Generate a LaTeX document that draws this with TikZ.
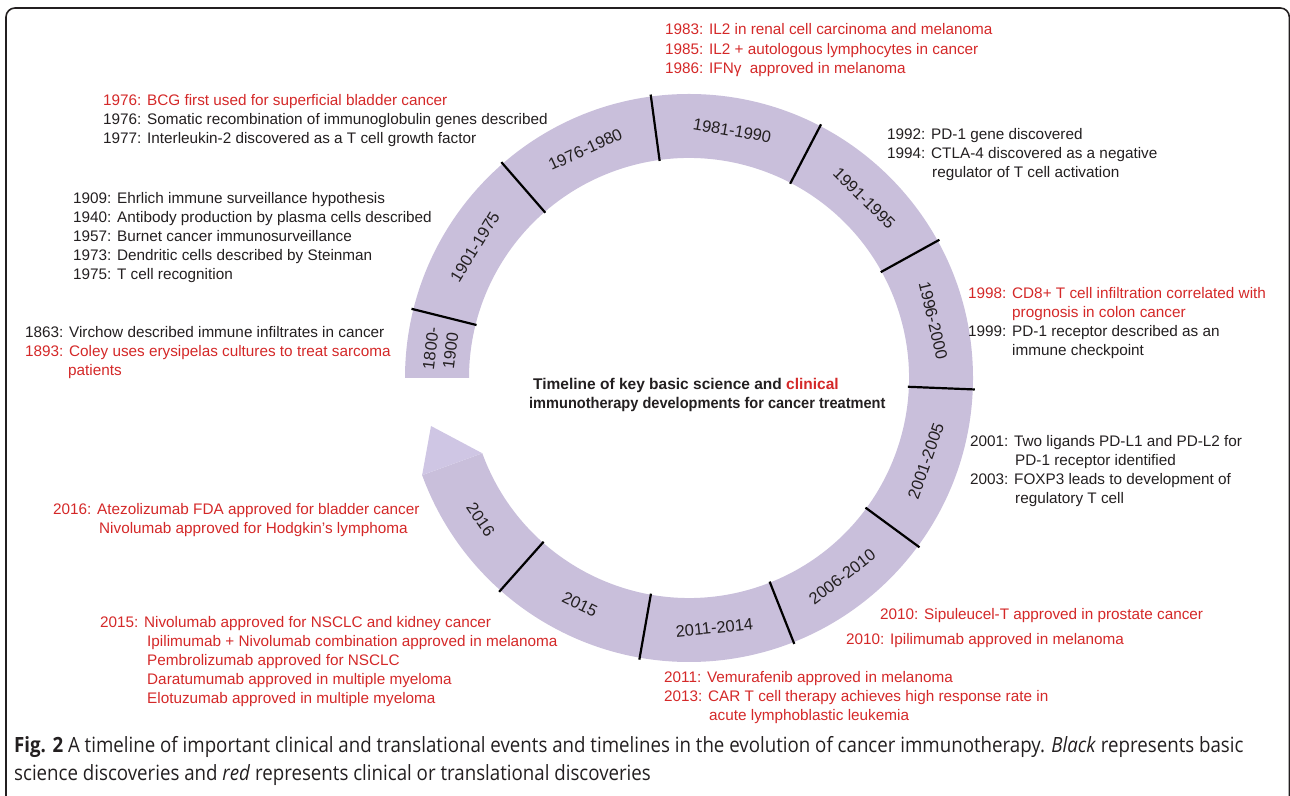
\documentclass[tikz,border=0pt]{standalone}
\usepackage{fontspec}
\setmainfont{Liberation Sans}
\newfontfamily\capfont[FakeStretch=0.89]{Open Sans}
\definecolor{ringc}{RGB}{201,191,219}
\definecolor{tipc}{RGB}{207,198,228}
\definecolor{redt}{RGB}{212,40,40}
\definecolor{blkt}{RGB}{35,31,32}
\tikzset{
  txt/.style={font=\fontsize{15.3}{19}\selectfont, inner sep=0pt, anchor=base west},
  ylab/.style={font=\fontsize{16.5}{20}\selectfont, text=blkt, inner sep=0pt, align=center},
  sep/.style={line width=2.2pt, black},
  ttl/.style={font=\fontsize{15.5}{19}\selectfont\bfseries, inner sep=0pt, anchor=base west, text=blkt},
  capt/.style={font=\capfont\fontsize{21}{27}\selectfont, inner sep=0pt, anchor=base west, text=blkt}
}
\newcommand\tl[5]{\node[txt,text=#1] (#2) at (#3,{795-#4}) {#5};}
\begin{document}
\begin{tikzpicture}[x=1pt,y=1pt]
\useasboundingbox (0,0) rectangle (1290,795);
\draw[line width=1.6pt, rounded corners=9pt, blkt] (6,-12) rectangle (1289.3,787);
\begin{scope}[shift={(689,417)}]
  \fill[ringc] (180:284) arc[start angle=180,end angle=-160,radius=284] -- (-160:220) arc[start angle=-160,end angle=180,radius=220] -- cycle;
  \coordinate (ao) at (-160:284);
  \coordinate (ai) at (-160:220);
  \coordinate (at) at (-258,-48);
  \fill[tipc] (ao) -- (ai) -- (at) -- cycle;
  \foreach \a/\n in {166/s1,131/s2,97.7/s3,62.5/s4,28.9/s5,-2.3/s6,-36.3/s7,-68.4/s8,-100/s9,-131.6/s10}{
    \coordinate (\n i) at (\a:219);
    \coordinate (\n o) at (\a:286);
    \draw[sep] (\n i) -- (\n o);
  }
  \node[ylab, rotate=83] (y1) at (173.5:250) {1800-\\1900};
  \node[ylab, rotate=58.5] (y2) at (148.5:251) {1901-1975};
  \node[ylab, rotate=24.4] (y3) at (114.4:251) {1976-1980};
  \node[ylab, rotate=-9.9] (y4) at (80.1:251) {1981-1990};
  \node[ylab, rotate=-44.3] (y5) at (45.7:251) {1991-1995};
  \node[ylab, rotate=-76.7] (y6) at (13.3:251) {1996-2000};
  \node[ylab, rotate=70.7] (y7) at (-19.3:251) {2001-2005};
  \node[ylab, rotate=37.6] (y8) at (-52.4:251) {2006-2010};
  \node[ylab, rotate=5.8] (y9) at (-84.2:251) {2011-2014};
  \node[ylab, rotate=-25.8] (y10) at (-115.8:251) {2015};
  \node[ylab, rotate=-55.8] (y11) at (-145.8:252) {2016};
\end{scope}
% top
\tl{redt}{t1}{665}{35}{1983: IL2 in renal cell carcinoma and melanoma}
\tl{redt}{t2}{665}{54.5}{1985: IL2 + autologous lymphocytes in cancer}
\tl{redt}{t3}{665}{74}{1986: IFNγ\ \ approved in melanoma}
% top left
\tl{redt}{a1}{103}{106}{1976: BCG first used for superficial bladder cancer}
\tl{blkt}{a2}{103}{125}{1976: Somatic recombination of immunoglobulin genes described}
\tl{blkt}{a3}{103}{144}{1977: Interleukin-2 discovered as a T cell growth factor}
% left
\tl{blkt}{b1}{73}{204}{1909: Ehrlich immune surveillance hypothesis}
\tl{blkt}{b2}{73}{223}{1940: Antibody production by plasma cells described}
\tl{blkt}{b3}{73}{242}{1957: Burnet cancer immunosurveillance}
\tl{blkt}{b4}{73}{261}{1973: Dendritic cells described by Steinman}
\tl{blkt}{b5}{73}{280}{1975: T cell recognition}
% lower left
\tl{blkt}{c1}{25}{338}{1863: Virchow described immune infiltrates in cancer}
\tl{redt}{c2}{25}{356.8}{1893: Coley uses erysipelas cultures to treat sarcoma}
\tl{redt}{c3}{68}{375.6}{patients}
% right top
\tl{blkt}{d1}{887}{140}{1992: PD-1 gene discovered}
\tl{blkt}{d2}{887}{159}{1994: CTLA-4 discovered as a negative}
\tl{blkt}{d3}{932}{178}{regulator of T cell activation}
% right
\tl{redt}{e1}{968}{299}{1998: CD8+ T cell infiltration correlated with}
\tl{redt}{e2}{1012}{318}{prognosis in colon cancer}
\tl{blkt}{e3}{968}{337}{1999: PD-1 receptor described as an}
\tl{blkt}{e4}{1012}{356}{immune checkpoint}
% right lower
\tl{blkt}{f1}{970}{447}{2001: Two ligands PD-L1 and PD-L2 for}
\tl{blkt}{f2}{1015}{466}{PD-1 receptor identified}
\tl{blkt}{f3}{970}{485}{2003: FOXP3 leads to development of}
\tl{blkt}{f4}{1015}{504}{regulatory T cell}
% bottom right
\tl{redt}{g1}{880}{620}{2010: Sipuleucel-T approved in prostate cancer}
\tl{redt}{g2}{846}{645}{2010: Ipilimumab approved in melanoma}
% bottom
\tl{redt}{h1}{664}{683}{2011: Vemurafenib approved in melanoma}
\tl{redt}{h2}{664}{702}{2013: CAR T cell therapy achieves high response rate in}
\tl{redt}{h3}{709}{721}{acute lymphoblastic leukemia}
% bottom left
\tl{redt}{i1}{100}{628}{2015: Nivolumab approved for NSCLC and kidney cancer}
\tl{redt}{i2}{147}{647}{Ipilimumab + Nivolumab combination approved in melanoma}
\tl{redt}{i3}{147}{666}{Pembrolizumab approved for NSCLC}
\tl{redt}{i4}{147}{685}{Daratumumab approved in multiple myeloma}
\tl{redt}{i5}{147}{704}{Elotuzumab approved in multiple myeloma}
% left 2016
\tl{redt}{j1}{53}{515}{2016: Atezolizumab FDA approved for bladder cancer}
\tl{redt}{j2}{99}{534}{Nivolumab approved for Hodgkin's lymphoma}
% centre title
\node[ttl] (k1) at (533,{795-390}) {Timeline of key basic science and \textcolor{redt}{clinical}};
\node[ttl, xscale=0.94] (k2) at (529,{795-409}) {immunotherapy developments for cancer treatment};
% caption
\node[capt] (m1) at (14,{795-753}) {{\bfseries Fig. 2} A timeline of important clinical and translational events and timelines in the evolution of cancer immunotherapy. \textit{Black} represents basic};
\node[capt] (m2) at (14,{795-780}) {science discoveries and \textit{red} represents clinical or translational discoveries};
\end{tikzpicture}
\end{document}
